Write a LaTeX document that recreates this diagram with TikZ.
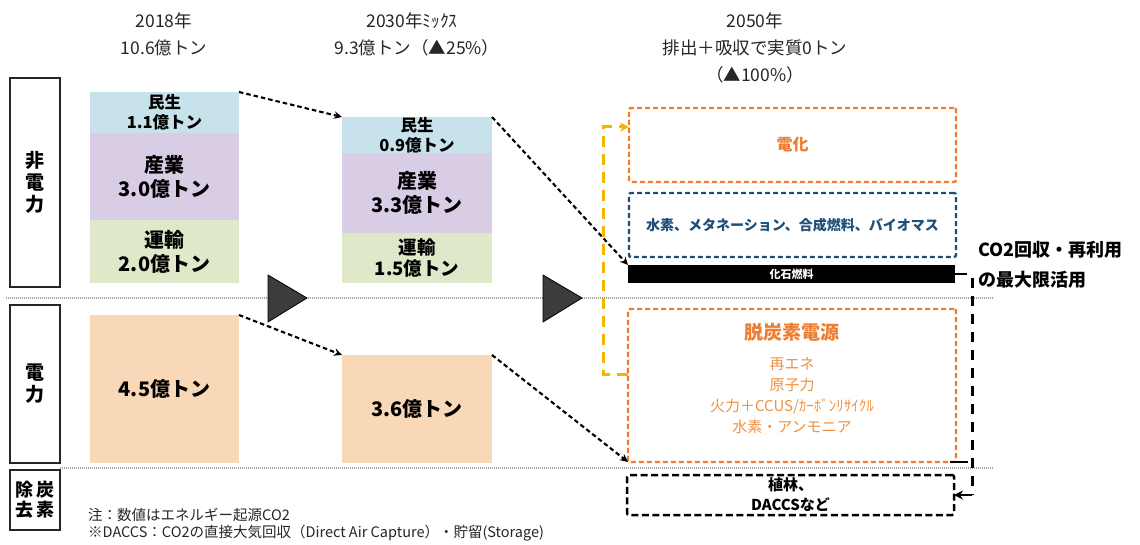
\documentclass[tikz,border=0pt]{standalone}
\usepackage{fontspec}
\newfontfamily\jp{Noto Sans CJK JP}
\usetikzlibrary{arrows.meta}
\definecolor{minsei}{HTML}{C8E2EC}
\definecolor{sangyo}{HTML}{D8CDE5}
\definecolor{unyu}{HTML}{DFE9C9}
\definecolor{peach}{HTML}{F9D8B7}
\definecolor{orng}{HTML}{ED7D31}
\definecolor{orngtxt}{HTML}{F0913F}
\definecolor{navy}{HTML}{1F4E79}
\definecolor{yel}{HTML}{F4B400}
\definecolor{tri}{HTML}{3C3C3C}
\definecolor{hdtxt}{HTML}{262626}
\begin{document}
\begin{tikzpicture}[x=1pt,y=-1pt,
  blk/.style={anchor=north west, inner sep=0pt, outer sep=0pt, align=center, text=black},
  stk/.style={blk, font=\jp\bfseries\fontsize{20}{24}\selectfont},
  stks/.style={blk, font=\jp\bfseries\fontsize{16.5}{20}\selectfont},
  sect/.style={blk, draw=black!85, line width=1.6pt, font=\jp\bfseries\fontsize{19}{22}\selectfont},
  hd/.style={font=\jp\fontsize{17.5}{20}\selectfont, text=hdtxt, inner sep=0pt},
  obox/.style={blk, draw=orng, line width=2.4pt, dash pattern=on 5pt off 3pt, rounded corners=2pt},
  bbox/.style={blk, draw=navy, line width=2.4pt, dash pattern=on 5pt off 3pt, rounded corners=2pt},
  kbox/.style={blk, draw=black, line width=2.5pt, dash pattern=on 7pt off 3.5pt, rounded corners=2pt},
  sep/.style={draw=gray!75, line width=1.8pt, dash pattern=on 1.2pt off 0.8pt},
  darr/.style={draw=black, line width=2.1pt, dash pattern=on 4.5pt off 3pt, -{Stealth[length=8pt,width=7.5pt]}},
  tritip/.style={fill=tri, draw=black, line width=0.8pt, line join=round},
  note/.style={anchor=west, inner sep=0pt, font=\jp\fontsize{14.5}{16}\selectfont, text=hdtxt}
]
\useasboundingbox (0,0) rectangle (1140,545);
\fill[white] (0,0) rectangle (1140,545);

% headings
\node[hd] (h1a) at (164,21) {2018年};
\node[hd] (h1b) at (164,48) {10.6億トン};
\node[hd] (h2a) at (412,21) {2030年ﾐｯｸｽ};
\node[hd] (h2b) at (417,48) {9.3億トン（▲25\%）};
\node[hd] (h3a) at (755,21) {2050年};
\node[hd] (h3b) at (755,48) {排出＋吸収で実質0トン};
\node[hd] (h3c) at (755,75) {（▲100\%）};

% separators
\draw[sep] (6,298) -- (993,298);
\draw[sep] (60,468) -- (993,468);

% section labels
\node[sect, minimum width=50pt, minimum height=209pt] (s1) at (10,78) {非\\電\\力};
\node[sect, minimum width=50pt, minimum height=158pt] (s2) at (10,305) {電\\力};
\node[sect, minimum width=50pt, minimum height=60pt, font=\jp\bfseries\fontsize{18}{20}\selectfont] (s3) at (10,470) {除\,炭\\去\,素};

% 2018 stack
\node[stks, fill=minsei, minimum width=149pt, minimum height=41pt] (m18) at (90,92) {民生\\1.1億トン};
\node[stk, fill=sangyo, minimum width=149pt, minimum height=87pt] (i18) at (90,133) {産業\\3.0億トン};
\node[stk, fill=unyu, minimum width=149pt, minimum height=63pt] (t18) at (90,220) {運輸\\2.0億トン};
\node[stk, fill=peach, minimum width=149pt, minimum height=148pt] (p18) at (90,315) {4.5億トン};

% 2030 stack
\node[stks, fill=minsei, minimum width=150pt, minimum height=36pt] (m30) at (342,117) {民生\\0.9億トン};
\node[stk, fill=sangyo, minimum width=150pt, minimum height=80pt] (i30) at (342,153) {産業\\3.3億トン};
\node[stk, fill=unyu, minimum width=150pt, minimum height=50pt, font=\jp\bfseries\fontsize{18.5}{21}\selectfont] (t30) at (342,233) {運輸\\1.5億トン};
\node[stk, fill=peach, minimum width=150pt, minimum height=108pt] (p30) at (342,355) {3.6億トン};

% triangles
\filldraw[tritip] (268,275) -- (307,298) -- (268,322) -- cycle;
\filldraw[tritip] (543,275) -- (582,298) -- (543,322) -- cycle;

% 2050 boxes
\node[obox, minimum width=327pt, minimum height=74pt, text=orng, font=\jp\bfseries\fontsize{16}{20}\selectfont] (elec) at (629,108) {電化};
\node[bbox, minimum width=327pt, minimum height=64pt, text=navy, font=\jp\bfseries\fontsize{14}{18}\selectfont] (hyd) at (629,193) {水素、メタネーション、合成燃料、バイオマス};
\node[blk, fill=black, minimum width=327pt, minimum height=18pt, text=white, font=\jp\bfseries\fontsize{11}{13}\selectfont] (fos) at (628,265) {化石燃料};
\node[obox, minimum width=328pt, minimum height=153pt] (dec) at (628,309) {};
\node[inner sep=0pt, text=orng, font=\jp\bfseries\fontsize{19}{22}\selectfont] (dect) at (792,332) {脱炭素電源};
\node[inner sep=0pt, text=orngtxt, font=\jp\fontsize{15}{21}\selectfont, align=center, anchor=north] (decl) at (792,357) {再エネ\\原子力\\火力＋CCUS/ｶｰﾎﾞﾝﾘｻｲｸﾙ\\水素・アンモニア};
\node[kbox, minimum width=327pt, minimum height=40pt, font=\jp\bfseries\fontsize{15}{20}\selectfont] (plant) at (627,475) {植林、\\DACCSなど};

% CO2 text
\node[anchor=west, inner sep=0pt, font=\jp\bfseries\fontsize{18}{22}\selectfont] (co2a) at (978,250) {CO2回収・再利用};
\node[anchor=west, inner sep=0pt, font=\jp\bfseries\fontsize{18}{22}\selectfont] (co2b) at (978,280) {の最大限活用};

% dashed black arrows between stacks
\draw[darr] (m18.north east) -- (m30.north west);
\draw[darr] (m30.north east) -- (fos.north west);
\draw[darr] (p18.north east) -- (p30.north west);
\draw[darr] (p30.north east) -- (dec.south west);

% yellow bracket arrow
\coordinate (y1) at (603,374);
\coordinate (y2) at (603,127);
\draw[draw=yel, line width=3pt, dash pattern=on 11pt off 7pt, -{Stealth[length=9pt,width=9pt]}]
  (dec.west |- y1) -- (y1) -- (y2) -- (elec.west |- y2);

% black CO2 recycle connector
\coordinate (k1) at (972,278);
\coordinate (k2) at (972,495);
\draw[black, line width=2.6pt] (fos.east) -- ++(12,0);
\draw[black, line width=2.6pt] (950,462) -- (968,462);
\draw[black, line width=3pt, dash pattern=on 10pt off 8pt] (k1) -- (k2);
\draw[black, line width=2.6pt, -{Stealth[length=9pt,width=9pt]}] (k2) -- (plant.east);

% notes
\node[note] (n1) at (88,515) {注：数値はエネルギー起源CO2};
\node[note] (n2) at (88,533) {※DACCS：CO2の直接大気回収（Direct Air Capture）・貯留(Storage)};
\end{tikzpicture}
\end{document}
